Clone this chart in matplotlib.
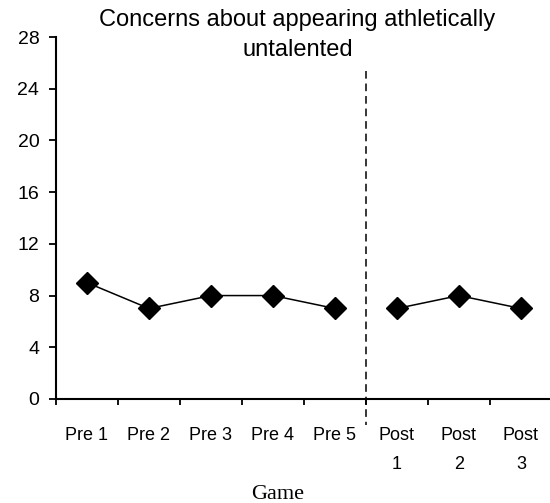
import matplotlib
matplotlib.use("Agg")
import matplotlib.pyplot as plt
from matplotlib.ticker import FixedLocator, NullFormatter

categories = ["Pre 1", "Pre 2", "Pre 3", "Pre 4", "Pre 5", "Post\n1", "Post\n2", "Post\n3"]
values = [9, 7, 8, 8, 7, 7, 8, 7]
yticks = [0, 4, 8, 12, 16, 20, 24, 28]
title = "Concerns about appearing athletically\nuntalented"
xlabel = "Game"

fig = plt.figure(figsize=(5.5, 5.03), dpi=100)
ax = fig.add_axes([0.1018, 0.2068, 0.9018, 0.7196])

pre_x = list(range(5))
post_x = list(range(5, 8))
ax.plot(pre_x, values[:5], color="black", lw=1.1, marker="D", markersize=11, clip_on=False)
ax.plot(post_x, values[5:], color="black", lw=1.1, marker="D", markersize=11, clip_on=False)

ax.plot([4.5, 4.5], [25.4, -2.0], color="black", lw=1.1, ls=(0, (5, 3.2)), clip_on=False)

ax.set_xlim(-0.5, 7.5)
ax.set_ylim(0, 28)
ax.set_yticks(yticks)
ax.set_yticklabels([str(t) for t in yticks], fontfamily="Liberation Sans", fontsize=14)
ax.set_xticks(range(len(categories)))
ax.set_xticklabels(categories, fontfamily="Liberation Sans", fontsize=13, linespacing=1.95, va="top")
ax.tick_params(axis="x", which="major", length=0, pad=20)
ax.xaxis.set_minor_locator(FixedLocator([i - 0.5 for i in range(len(categories) + 1)]))
ax.xaxis.set_minor_formatter(NullFormatter())
ax.tick_params(axis="x", which="minor", length=4.5, width=1.3, direction="out")
ax.tick_params(axis="y", length=5, width=1.3, direction="out", pad=7)

for s in ["top", "right"]:
    ax.spines[s].set_visible(False)
for s in ["left", "bottom"]:
    ax.spines[s].set_linewidth(1.5)

fig.text(0.541, 0.930, title, ha="center", va="center", fontfamily="Liberation Sans",
         fontsize=17, linespacing=1.5)
fig.text(0.504, 0.017, xlabel, ha="center", va="center", fontfamily="Liberation Serif", fontsize=16)

fig.savefig("out.png", dpi=100)
